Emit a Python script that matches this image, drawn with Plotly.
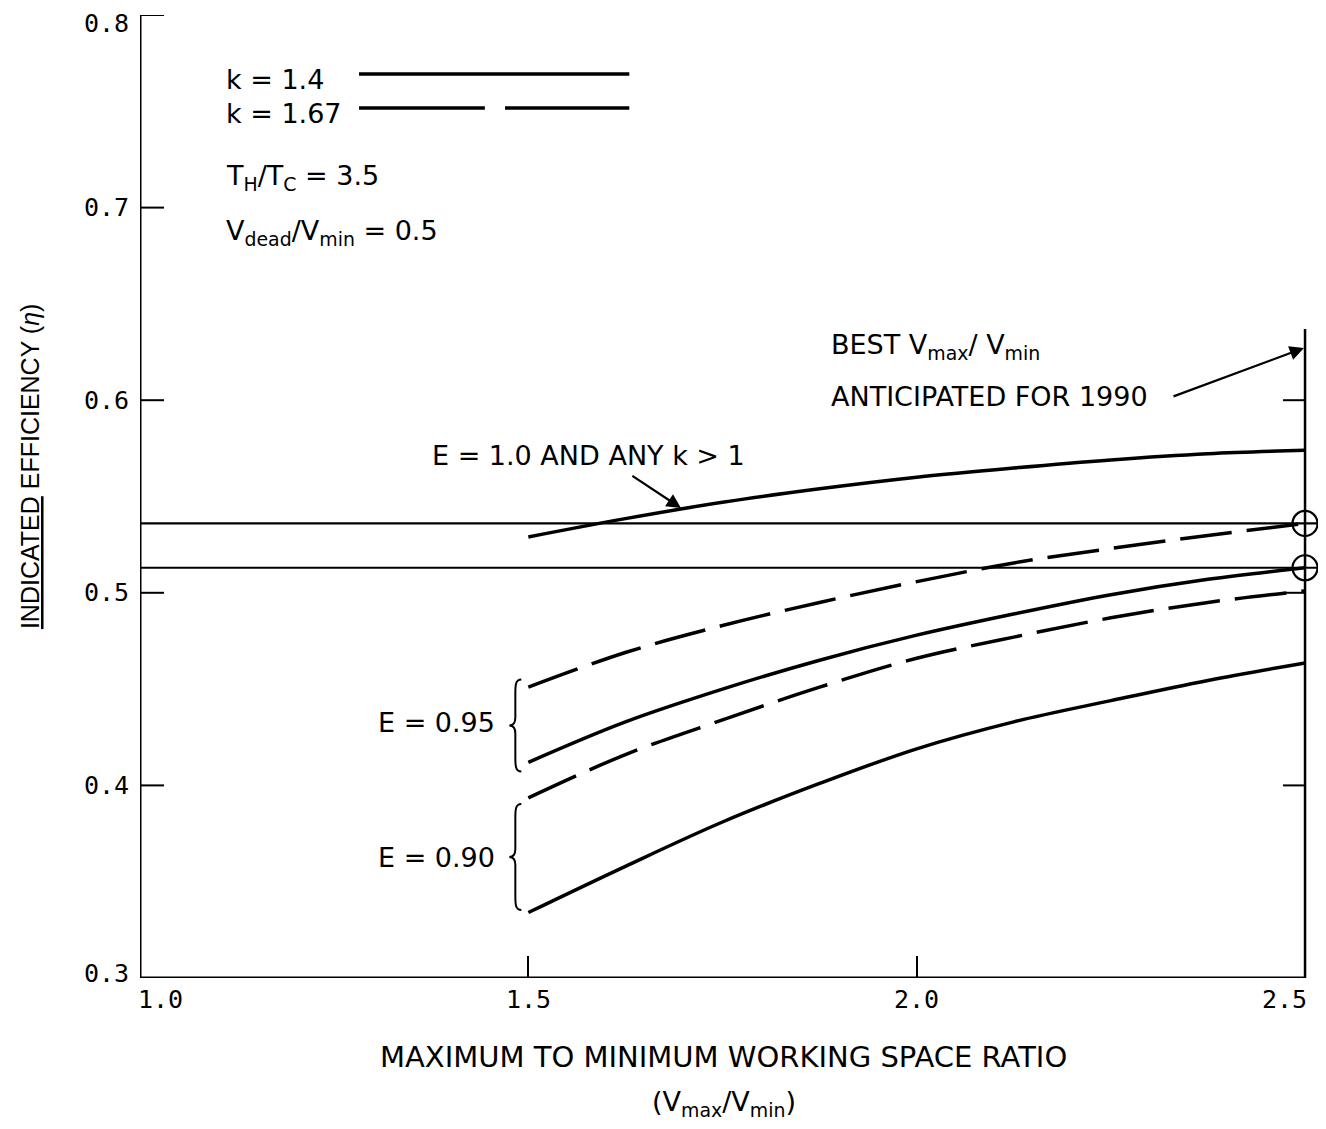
import plotly.graph_objects as go

# ---- data ----
ratio = [1.5, 1.625, 1.75, 1.875, 2.0, 2.125, 2.25, 2.375, 2.5]
eff_E100 = [0.529, 0.5385, 0.547, 0.554, 0.560, 0.5648, 0.569, 0.5722, 0.574]
eff_E095_k167 = [0.451, 0.469, 0.483, 0.495, 0.5058, 0.5155, 0.523, 0.5298, 0.536]
eff_E095_k14 = [0.412, 0.433, 0.450, 0.465, 0.478, 0.489, 0.499, 0.507, 0.513]
eff_E090_k167 = [0.3935, 0.416, 0.434, 0.451, 0.466, 0.477, 0.487, 0.495, 0.501]
eff_E090_k14 = [0.334, 0.358, 0.381, 0.401, 0.419, 0.433, 0.444, 0.4545, 0.4636]
ref_levels = [0.536, 0.513]
best_ratio = 2.5
x_ticks = [1.0, 1.5, 2.0, 2.5]
x_ticklabels = ["1.0", "1.5", "2.0", "2.5"]
y_ticks = [0.3, 0.4, 0.5, 0.6, 0.7, 0.8]
y_ticklabels = ["0.3", "0.4", "0.5", "0.6", "0.7", "0.8"]

FONT = "DejaVu Sans"
MONO = "DejaVu Sans Mono"
BLACK = "black"
LW = 3.5
DASH = "52px,15px"
TS = 27  # general text size

fig = go.Figure()

def curve(y, dashed):
    fig.add_trace(go.Scatter(
        x=ratio, y=y, mode="lines",
        line=dict(color=BLACK, width=LW, shape="spline", smoothing=1.0,
                  dash=DASH if dashed else "solid"),
        hoverinfo="skip", showlegend=False))

curve(eff_E100, False)
curve(eff_E095_k167, True)
curve(eff_E095_k14, False)
curve(eff_E090_k167, True)
curve(eff_E090_k14, False)

# circles at best ratio
fig.add_trace(go.Scatter(
    x=[best_ratio] * len(ref_levels), y=ref_levels, mode="markers",
    marker=dict(symbol="circle-open", size=25, color=BLACK, line=dict(width=2.2, color=BLACK)),
    hoverinfo="skip", showlegend=False))

shapes = []
for lv in ref_levels:
    shapes.append(dict(type="line", xref="paper", yref="y", x0=0, x1=1, y0=lv, y1=lv,
                       line=dict(color=BLACK, width=2.2)))
shapes.append(dict(type="line", xref="x", yref="y", x0=1.0, x1=1.0, y0=0.3, y1=0.8,
                   line=dict(color=BLACK, width=3)))
shapes.append(dict(type="line", xref="x", yref="y", x0=1.0, x1=best_ratio, y0=0.3, y1=0.3,
                   line=dict(color=BLACK, width=3)))
shapes.append(dict(type="line", xref="x", yref="y", x0=best_ratio, x1=best_ratio, y0=0.3, y1=0.637,
                   line=dict(color=BLACK, width=2.5)))
# left axis inward ticks
for yt in y_ticks:
    shapes.append(dict(type="line", xref="x", yref="y", xsizemode="pixel", xanchor=1.0,
                       x0=0, x1=24, y0=yt, y1=yt, line=dict(color=BLACK, width=2)))
# right side inward ticks
for yt in [0.4, 0.5, 0.6]:
    shapes.append(dict(type="line", xref="x", yref="y", xsizemode="pixel", xanchor=best_ratio,
                       x0=-22, x1=0, y0=yt, y1=yt, line=dict(color=BLACK, width=2)))
# legend keys
shapes.append(dict(type="line", xref="x", yref="y", x0=1.282, x1=1.630, y0=0.7694, y1=0.7694,
                   line=dict(color=BLACK, width=LW)))
shapes.append(dict(type="line", xref="x", yref="y", x0=1.282, x1=1.444, y0=0.7517, y1=0.7517,
                   line=dict(color=BLACK, width=LW)))
shapes.append(dict(type="line", xref="x", yref="y", x0=1.470, x1=1.630, y0=0.7517, y1=0.7517,
                   line=dict(color=BLACK, width=LW)))

def brace(ymid, half):
    h = half
    path = (f"M -7,{h} C -13,{h} -13,{h-6} -13,{h-14} L -13,8 C -13,3 -15,0 -19,0 "
            f"C -15,0 -13,-3 -13,-8 L -13,{-(h-14)} C -13,{-(h-6)} -13,{-h} -7,{-h}")
    return dict(type="path", xref="x", yref="y", xsizemode="pixel", ysizemode="pixel",
                xanchor=1.5, yanchor=ymid, path=path, line=dict(color=BLACK, width=2))

shapes.append(brace(0.4311, 46))
shapes.append(brace(0.3628, 53))

annotations = []
def txt(x, y, text, size=TS, family=FONT, xanchor="left", yanchor="middle",
        xref="x", yref="y", **kw):
    annotations.append(dict(x=x, y=y, xref=xref, yref=yref, text=text, showarrow=False,
                            xanchor=xanchor, yanchor=yanchor,
                            font=dict(family=family, size=size, color=BLACK), **kw))

txt(1.108, 0.7663, "k = 1.4")
txt(1.108, 0.7491, "k = 1.67")
txt(1.108, 0.7154, "T<sub>H</sub>/T<sub>C</sub> = 3.5")
txt(1.108, 0.6873, "V<sub>dead</sub>/V<sub>min</sub> = 0.5")
txt(1.577, 0.5715, "E = 1.0 AND ANY k > 1", xanchor="center")
txt(1.887, 0.628, "BEST V<sub>max</sub>/ V<sub>min</sub>")
txt(1.887, 0.6017, "ANTICIPATED FOR 1990")
txt(1.4596, 0.4329, "E = 0.95", xanchor="right")
txt(1.4596, 0.3628, "E = 0.90", xanchor="right")

# x tick labels (offset like the reference)
x_label_shift = [20, 0, 0, -21]
for xv, lab, sh in zip(x_ticks, x_ticklabels, x_label_shift):
    annotations.append(dict(x=xv, y=-0.022, xref="x", yref="paper", text=lab, showarrow=False,
                            xanchor="center", yanchor="middle", xshift=sh,
                            font=dict(family=MONO, size=25, color=BLACK)))
# y tick labels
for yv, lab in zip(y_ticks, y_ticklabels):
    annotations.append(dict(x=1.0, y=yv, xref="x", yref="y", text=lab, showarrow=False,
                            xanchor="right", yanchor="middle", xshift=-9,
                            yshift=(-8 if yv == 0.8 else (5 if yv == 0.3 else 0)),
                            font=dict(family=MONO, size=25, color=BLACK)))

# arrows
annotations.append(dict(x=1.6965, y=0.544, ax=1.632, ay=0.5612, xref="x", yref="y",
                        axref="x", ayref="y", text="", showarrow=True, arrowhead=2,
                        arrowsize=1.3, arrowwidth=2.2, arrowcolor=BLACK))
annotations.append(dict(x=2.4987, y=0.6271, ax=2.3287, ay=0.6017, xref="x", yref="y",
                        axref="x", ayref="y", text="", showarrow=True, arrowhead=2,
                        arrowsize=1.3, arrowwidth=2.2, arrowcolor=BLACK))

# axis titles
txt(0.4924, -0.082, "MAXIMUM TO MINIMUM WORKING SPACE RATIO", size=29, xanchor="center",
    xref="paper", yref="paper")
txt(0.4924, -0.130, "(V<sub>max</sub>/V<sub>min</sub>)", xanchor="center",
    xref="paper", yref="paper")
txt(-0.0927, 0.5306, "<u>INDICATED</u> EFFICIENCY (<i>η</i>)", size=25, family="Liberation Sans",
    xanchor="center", xref="paper", yref="paper", textangle=-90)

# page body has an 8px margin: shrink/shift figure so plot area lands where the reference has it
fig.update_layout(
    width=1318, height=1121,
    margin=dict(l=132, r=0, t=7, b=151),
    paper_bgcolor="white", plot_bgcolor="white",
    shapes=shapes, annotations=annotations,
    showlegend=False,
    xaxis=dict(range=[1.0, 2.527], tickvals=x_ticks, showticklabels=False,
               ticks="inside", ticklen=22, tickwidth=2, tickcolor=BLACK,
               showgrid=False, zeroline=False, showline=False),
    yaxis=dict(range=[0.3, 0.8], tickvals=y_ticks, showticklabels=False,
               ticks="", showgrid=False, zeroline=False, showline=False),
)

fig.write_html("out.html")
